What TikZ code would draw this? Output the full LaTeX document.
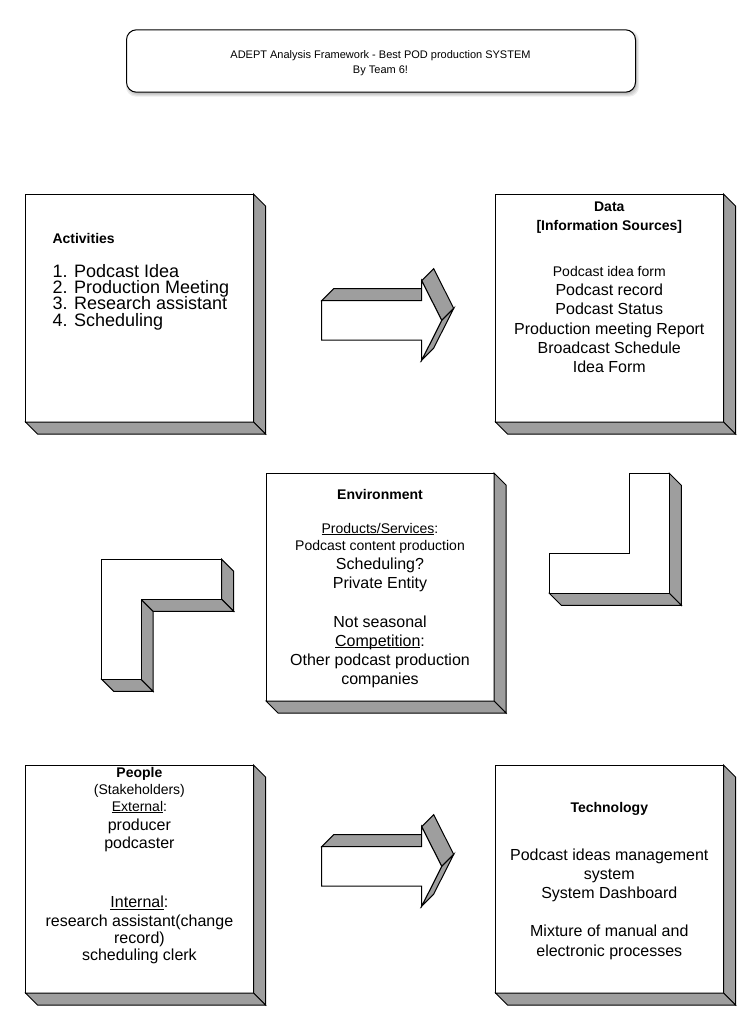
\documentclass[tikz,border=0pt]{standalone}
\usepackage{fontspec}
\setmainfont{Liberation Sans}
\usetikzlibrary{calc}

\definecolor{sidegray}{HTML}{9E9E9E}

% underlined word: a thin rule just below the baseline
\newcommand\ulword[1]{\setbox0\hbox{#1}\rlap{\rule[-2pt]{\wd0}{0.9pt}}\box0}

% gray side and bottom faces of a 3-D box whose front face is node #1
\newcommand\boxsides[1]{%
  \filldraw[side] (#1.north east) -- ($(#1.north east)+(12,12)$)
     -- ($(#1.south east)+(12,12)$) -- (#1.south east) -- cycle;
  \filldraw[side] (#1.south west) -- (#1.south east)
     -- ($(#1.south east)+(12,12)$) -- ($(#1.south west)+(12,12)$) -- cycle;}

\tikzset{
  face/.style={draw=black, fill=white, line width=1pt, inner sep=0pt,
    outer sep=0pt, minimum width=228pt, minimum height=228pt, anchor=north west},
  side/.style={draw=black, fill=sidegray, line width=1pt, line join=miter},
  frontface/.style={draw=black, fill=white, line width=1pt, line join=miter},
  txt/.style={inner sep=0pt, anchor=base},
  ltxt/.style={inner sep=0pt, anchor=base west},
  f11/.style={font=\fontsize{11}{13}\selectfont},
  f14/.style={font=\fontsize{14}{17}\selectfont},
  f16/.style={font=\fontsize{16}{19}\selectfont},
  f18/.style={font=\fontsize{18}{20}\selectfont},
  b14/.style={font=\fontsize{14}{17}\selectfont\bfseries},
  % extruded block arrow, origin at the top-left corner of its shaft
  blockarrow/.pic={
    \filldraw[side] (0,0) -- (100,0) -- (112,-12) -- (12,-12) -- cycle;
    \filldraw[side] (100,-20) -- (112,-32) -- (132,7.7) -- (120,19.7) -- cycle;
    \filldraw[side] (120,19.7) -- (132,7.7) -- (112,47.4) -- (100,59.4) -- cycle;
    \filldraw[frontface] (0,0) -- (100,0) -- (100,-20) -- (120,19.7)
      -- (100,59.4) -- (100,39.4) -- (0,39.4) -- cycle;
  }
}

\begin{document}
\begin{tikzpicture}[x=1pt,y=-1pt]
\useasboundingbox (0,0) rectangle (750,1020);
\fill[white] (0,0) rectangle (750,1020);

% ---- title banner with a soft shadow ----
\foreach \b in {2,1,0,-1}
  \fill[black, opacity=0.07, rounded corners=10pt]
    (128-\b,32.3-\b) rectangle (637+\b,94.7+\b);
\node[draw=black, fill=white, line width=1pt, rounded corners=10pt,
      inner sep=0pt, minimum width=509pt, minimum height=62.4pt,
      anchor=north west] (title) at (126,29.3) {};
\node[txt, f11] (title1) at (380.5,58.9) {ADEPT Analysis Framework - Best POD production SYSTEM};
\node[txt, f11] (title2) at (380.5,73.3) {By Team 6!};

% ---- the five boxes ----
\node[face] (act)  at (25.5,194)  {};
\node[face] (data) at (495.5,194) {};
\node[face] (env)  at (266,473)   {};
\node[face] (ppl)  at (25.5,765)  {};
\node[face] (tech) at (495.5,765) {};
\boxsides{act}
\boxsides{data}
\boxsides{env}
\boxsides{ppl}
\boxsides{tech}

% Activities
\node[ltxt, b14] (actH) at (52.3,243.3) {Activities};
\node[ltxt, f18] (act1) at (52.3,277.3) {1. Podcast Idea};
\node[ltxt, f18] (act2) at (52.3,293.6) {2. Production Meeting};
\node[ltxt, f18] (act3) at (52.3,309.9) {3. Research assistant};
\node[ltxt, f18] (act4) at (52.3,326.2) {4. Scheduling};

% Data
\node[txt, b14] (dataH1) at (609.3,211.7) {Data};
\node[txt, b14] (dataH2) at (609.3,230) {[Information Sources]};
\node[txt, f14] (data1) at (609.3,276.7) {Podcast idea form};
\node[txt, f16] (data2) at (609.3,295.7) {Podcast record};
\node[txt, f16] (data3) at (609.3,314.9) {Podcast Status};
\node[txt, f16] (data4) at (609.3,334.1) {Production meeting Report};
\node[txt, f16] (data5) at (609.3,353.3) {Broadcast Schedule};
\node[txt, f16] (data6) at (609.3,372.5) {Idea Form};

% Environment
\node[txt, b14] (envH) at (380,499.3) {Environment};
\node[txt, f14] (env1) at (380,533.3) {\ulword{Products/Services}:};
\node[txt, f14] (env2) at (380,550) {Podcast content production};
\node[txt, f16] (env3) at (380,569.4) {Scheduling?};
\node[txt, f16] (env4) at (380,588.6) {Private Entity};
\node[txt, f16] (env5) at (380,627) {Not seasonal};
\node[txt, f16] (env6) at (380,646.2) {\ulword{Competition}:};
\node[txt, f16] (env7) at (380,665.4) {Other podcast production};
\node[txt, f16] (env8) at (380,684.6) {companies};

% People
\node[txt, b14] (pplH) at (139.4,777.7) {People};
\node[txt, f14] (ppl1) at (139.4,794.3) {(Stakeholders)};
\node[txt, f14] (ppl2) at (139.4,811) {\ulword{External}:};
\node[txt, f16] (ppl3) at (139.4,830.3) {producer};
\node[txt, f16] (ppl4) at (139.4,848.5) {podcaster};
\node[txt, f16] (ppl5) at (139.4,907.7) {\ulword{Internal}:};
\node[txt, f16] (ppl6) at (139.4,926) {research assistant(change};
\node[txt, f16] (ppl7) at (139.4,943.5) {record)};
\node[txt, f16] (ppl8) at (139.4,960.5) {scheduling clerk};

% Technology
\node[txt, b14] (techH) at (609.3,812.7) {Technology};
\node[txt, f16] (tech1) at (609.3,860) {Podcast ideas management};
\node[txt, f16] (tech2) at (609.3,879.2) {system};
\node[txt, f16] (tech3) at (609.3,898.4) {System Dashboard};
\node[txt, f16] (tech4) at (609.3,936.8) {Mixture of manual and};
\node[txt, f16] (tech5) at (609.3,956) {electronic processes};

% ---- block arrows ----
\pic at (321.7,300.7) {blockarrow};
\pic at (321.7,846.7) {blockarrow};

% ---- left L bracket ----
\filldraw[side] (221.7,559.3) -- (233.7,571.3) -- (233.7,611.3) -- (221.7,599.3) -- cycle;
\filldraw[side] (141,599.3) -- (221.7,599.3) -- (233.7,611.3) -- (153,611.3) -- cycle;
\filldraw[side] (141,599.3) -- (153,611.3) -- (153,691.3) -- (141,679.3) -- cycle;
\filldraw[side] (101.7,679.3) -- (141,679.3) -- (153,691.3) -- (113.7,691.3) -- cycle;
\filldraw[frontface] (101.7,559.3) -- (221.7,559.3) -- (221.7,599.3) -- (141,599.3)
  -- (141,679.3) -- (101.7,679.3) -- cycle;

% ---- right L bracket ----
\filldraw[side] (669.3,473.3) -- (681.3,485.3) -- (681.3,605.3) -- (669.3,593.3) -- cycle;
\filldraw[side] (549.3,593.3) -- (669.3,593.3) -- (681.3,605.3) -- (561.3,605.3) -- cycle;
\filldraw[frontface] (629.3,473.3) -- (669.3,473.3) -- (669.3,593.3) -- (549.3,593.3)
  -- (549.3,553.3) -- (629.3,553.3) -- cycle;
\end{tikzpicture}
\end{document}
